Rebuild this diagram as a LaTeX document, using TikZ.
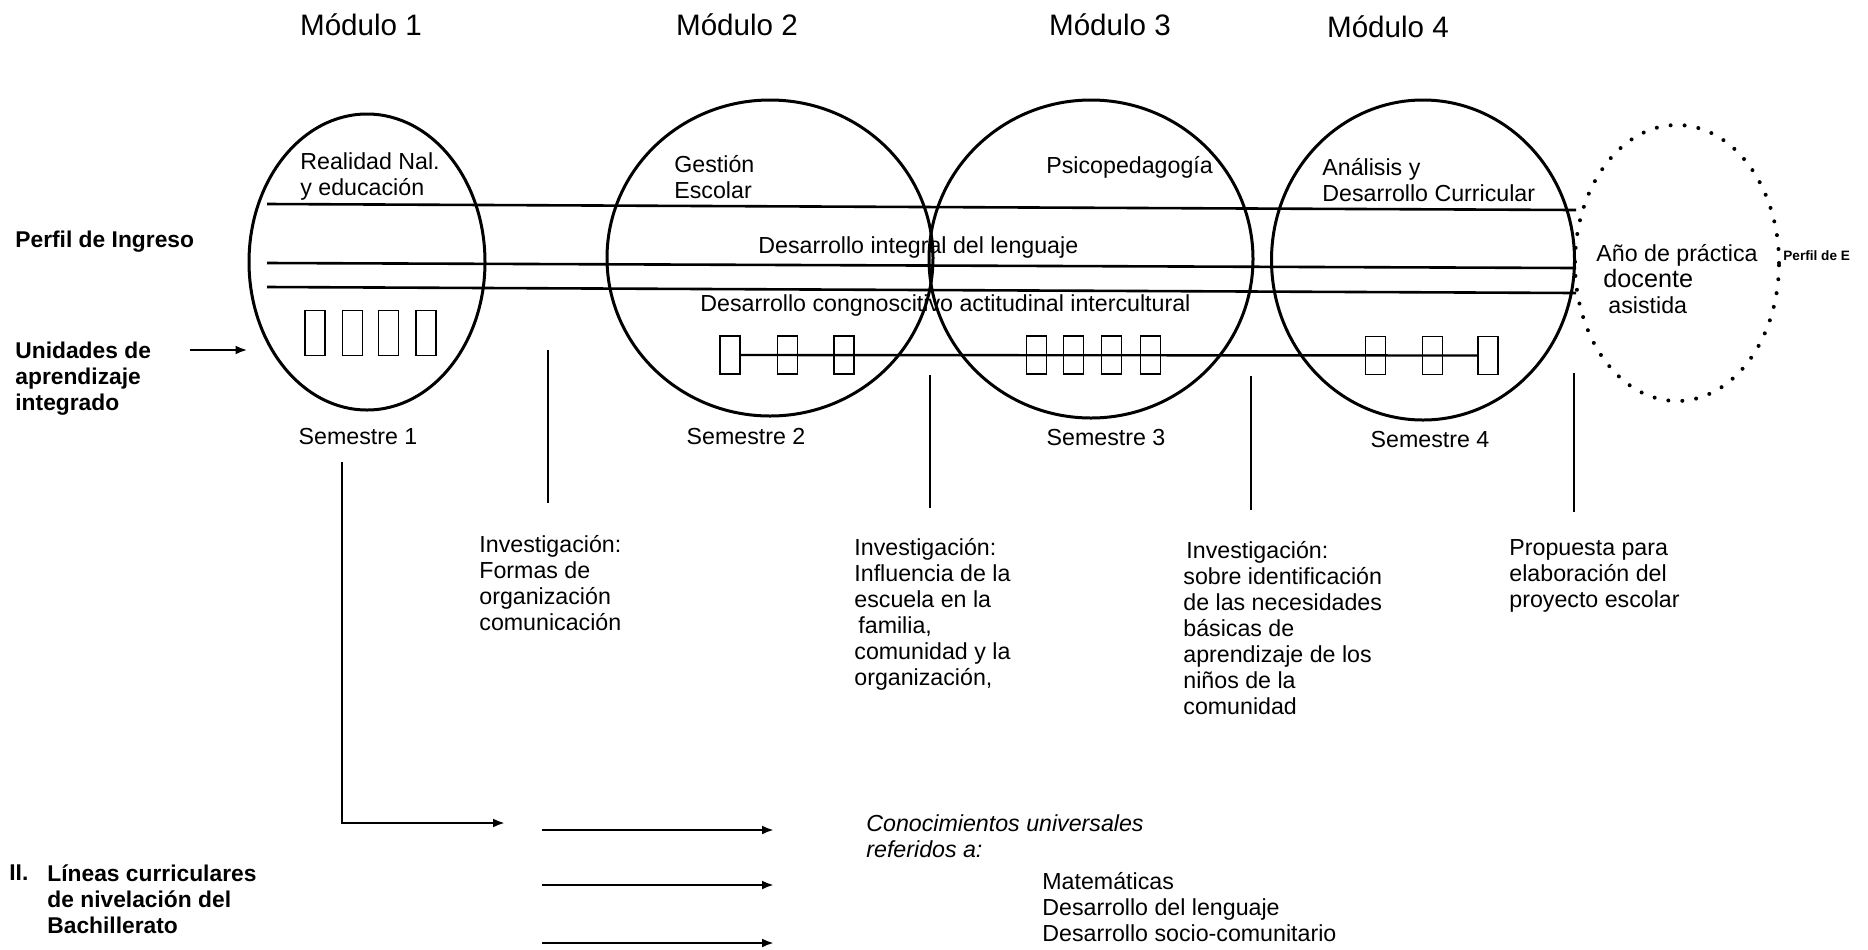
\documentclass[tikz,border=0pt]{standalone}
\usepackage{fontspec}
\setmainfont{Liberation Sans}
\usetikzlibrary{shapes.geometric,arrows.meta}
\begin{document}
\begin{tikzpicture}[x=0.5pt,y=-0.5pt,
  txt/.style={inner sep=0pt, align=left, anchor=west, font=\fontsize{11.6pt}{13pt}\selectfont},
  bold/.style={txt, font=\fontsize{11.4pt}{13pt}\selectfont\bfseries},
  slant/.style={txt, font=\fontsize{11.6pt}{13pt}\selectfont\itshape},
  modulo/.style={inner sep=0pt, font=\fontsize{14.8pt}{17pt}\selectfont},
  sem/.style={inner sep=0pt, font=\fontsize{11.6pt}{13pt}\selectfont},
  ring/.style={draw, ellipse, line width=1.5pt, inner sep=0pt},
  dotring/.style={draw, ellipse, inner sep=0pt, line width=2pt, line cap=round, dash pattern=on 0pt off 7pt},
  unit/.style={draw, rectangle, line width=0.8pt, inner sep=0pt, minimum width=10pt, minimum height=19pt},
  band/.style={line width=1.3pt},
  link/.style={line width=1.2pt},
  arr/.style={line width=1.2pt, -{Latex[length=6pt,width=4.5pt]}},
]
\useasboundingbox (0,0) rectangle (1868,949);

% module headings
\node[modulo] (m1) at (361,25) {Módulo 1};
\node[modulo] (m2) at (737,25) {Módulo 2};
\node[modulo] (m3) at (1110,25) {Módulo 3};
\node[modulo] (m4) at (1388,27) {Módulo 4};

% module rings and the practice year
\node[ring, minimum width=118pt, minimum height=148pt] (c1) at (367,262) {};
\node[ring, minimum width=163pt, minimum height=158pt] (c2) at (770,258) {};
\node[ring, minimum width=162pt, minimum height=159pt] (c3) at (1091,259) {};
\node[ring, minimum width=151.5pt, minimum height=160pt] (c4) at (1423,260) {};
\node[dotring, minimum width=102pt, minimum height=138pt] (c5) at (1677,263) {};

% the three curricular bands
\coordinate (bl1) at (267,204);  \coordinate (br1) at (1576,210);
\coordinate (bl2) at (267,263);  \coordinate (br2) at (1576,268);
\coordinate (bl3) at (267,287);  \coordinate (br3) at (1576,293);
\draw[band] (bl1) -- (br1);
\draw[band] (bl2) -- (br2);
\draw[band] (bl3) -- (br3);

% ring titles and band labels
\node[txt] (t1) at (300,176) {Realidad Nal.\\y educación};
\node[txt] (t2) at (674,177) {Gestión\\Escolar};
\node[txt] (t3) at (1046,167) {Psicopedagogía};
\node[txt] (t4) at (1322,180) {Análisis y\\Desarrollo Curricular};
\node[txt] (l1) at (758,247) {Desarrollo integral del lenguaje};
\node[txt] (l2) at (700,305) {Desarrollo congnoscitivo actitudinal intercultural};
\node[txt] (t5) at (1596,279) {Año de práctica\\\hspace{3.5pt}{\fontsize{12.6pt}{13pt}\selectfont docente}\\\hspace{6pt}asistida};
\node[bold, font=\fontsize{6.8pt}{8pt}\selectfont\bfseries] (pe) at (1783,256) {Perfil de E};

% left side labels
\node[bold] (pi) at (15,242) {Perfil de Ingreso};
\node[bold] (ua) at (15,379) {Unidades de\\aprendizaje\\integrado};
\coordinate (ua0) at (190,350);
\draw[arr] (ua0) -- (ua0 -| c1.west);

% learning units
\node[unit, minimum height=22.5pt] (a1) at (315,333) {};
\node[unit, minimum height=22.5pt] (a2) at (352.5,333) {};
\node[unit, minimum height=22.5pt] (a3) at (388.5,333) {};
\node[unit, minimum height=22.5pt] (a4) at (426,333) {};

\node[unit] (b1) at (730,355) {};
\node[unit] (b2) at (787.5,355) {};
\node[unit] (b3) at (844,355) {};

\node[unit] (e1) at (1036.5,355) {};
\node[unit] (e2) at (1073.5,355) {};
\node[unit] (e3) at (1111.5,355) {};
\node[unit] (e4) at (1150.5,355) {};

\node[unit] (d1) at (1375.5,355.5) {};
\node[unit] (d2) at (1432.5,355.5) {};
\node[unit] (d3) at (1488,355.5) {};

\draw[link] (b1.east) -- (d3.west);

% semesters
\node[sem] (s1) at (358,437) {Semestre 1};
\node[sem] (s2) at (746,437) {Semestre 2};
\node[sem] (s3) at (1106,438) {Semestre 3};
\node[sem] (s4) at (1430,440) {Semestre 4};

% research drops
\coordinate (v1a) at (548,350);  \coordinate (v1b) at (548,503);
\coordinate (v2a) at (930,375);  \coordinate (v2b) at (930,508);
\coordinate (v3a) at (1251,376); \coordinate (v3b) at (1251,510);
\coordinate (v4a) at (1574,373); \coordinate (v4b) at (1574,512);
\draw[link] (v1a) -- (v1b);
\draw[link] (v2a) -- (v2b);
\draw[link] (v3a) -- (v3b);
\draw[link] (v4a) -- (v4b);

\node[txt] (i1) at (479,583) {Investigación:\\Formas de\\organización\\comunicación};
\node[txt] (i2) at (854,614) {Investigación:\\Influencia de la\\escuela en la\\\hspace{2pt}familia,\\comunidad y la\\organización,};
\node[txt] (i3) at (1183,628) {\hspace{1.5pt}Investigación:\\sobre identificación\\de las necesidades\\básicas de\\aprendizaje de los\\niños de la\\comunidad};
\node[txt] (i4) at (1509,576) {Propuesta para\\elaboración del\\proyecto escolar};

% levelling lines
\coordinate (k0) at (342,462);
\coordinate (k1) at (342,823);
\coordinate (k2) at (505,823);
\draw[arr] (k0) -- (k1) -- (k2);

\coordinate (r1a) at (542,830); \coordinate (r1b) at (774,830);
\coordinate (r2a) at (542,885); \coordinate (r2b) at (774,885);
\coordinate (r3a) at (542,943); \coordinate (r3b) at (774,943);
\draw[arr] (r1a) -- (r1b);
\draw[arr] (r2a) -- (r2b);
\draw[arr] (r3a) -- (r3b);

\node[slant] (cu) at (866,836) {Conocimientos universales\\referidos a:};
\node[txt] (mt) at (1042,907) {Matemáticas\\Desarrollo del lenguaje\\Desarrollo socio-comunitario};
\node[bold] (n2) at (9,873) {II.};
\node[bold] (lc) at (47,899) {Líneas curriculares\\de nivelación del\\Bachillerato};
\end{tikzpicture}
\end{document}
